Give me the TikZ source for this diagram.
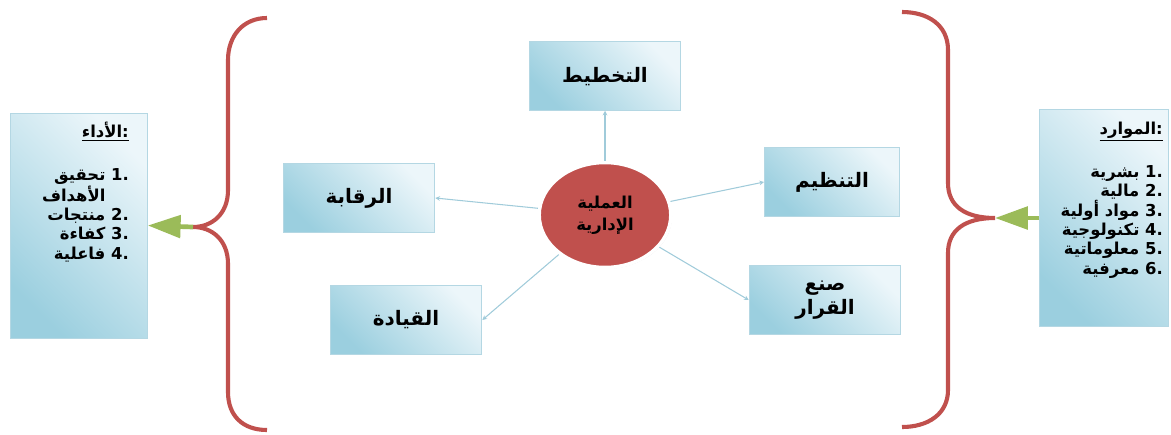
\documentclass[tikz,border=0pt]{standalone}
\usepackage{fontspec}
\newfontfamily\arabicfont[Script=Arabic]{DejaVu Sans}
\TeXXeTstate=1
\usepackage{tikz}
\usetikzlibrary{arrows.meta, positioning, shapes.geometric, shadows}
\definecolor{colorBrace}{RGB}{192,80,77}
\definecolor{colorFeed}{RGB}{155,187,89}
\definecolor{colorProc}{RGB}{192,80,77}
\definecolor{colorBoxLight}{RGB}{236,246,250}
\definecolor{colorBoxDark}{RGB}{155,207,223}
\definecolor{colorBoxLine}{RGB}{180,215,227}
\definecolor{colorLink}{RGB}{160,203,218}
\tikzset{
  funcbox/.style={rectangle, draw=colorBoxLine, line width=0.8pt, top color=colorBoxLight, bottom color=colorBoxDark, shading angle=-45, minimum width=4.55cm, minimum height=2.05cm, font=\arabicfont\bfseries\fontsize{17}{21}\selectfont, align=center},
  sidebox/.style={funcbox, minimum width=4.1cm, minimum height=6.75cm},
  listtext/.style={inner sep=0pt, align=right, font=\arabicfont\bfseries\fontsize{14}{16.5}\selectfont},
  proc/.style={ellipse, fill=colorProc, draw=white, line width=3pt, minimum width=3.95cm, minimum height=3.15cm, inner sep=0pt, align=center, font=\arabicfont\bfseries\fontsize{14}{19}\selectfont, drop shadow={opacity=0.3, shadow xshift=1pt, shadow yshift=-1pt}},
  link/.style={draw=colorLink, line width=0.9pt, -{Stealth[length=4pt,width=4pt]}},
  brace/.style={draw=colorBrace, line width=3.5pt},
  feed/.style={draw=colorFeed, line width=4pt, -{Triangle[length=28pt,width=19pt]}},
}

\begin{document}
\begin{tikzpicture}[x=0.03cm, y=-0.03cm]
\useasboundingbox (0,0) rectangle (1171,434);
% centre
\node[proc] (proc) at (605,215) {\beginR العملية\endR\\\beginR الإدارية\endR};
\node[funcbox, above=1.5cm of proc] (plan) {\beginR التخطيط\endR};
\node[funcbox, minimum width=4.05cm] (org) at (832,182) {\beginR التنظيم\endR};
\node[funcbox, align=center] (dec) at (825,300) {\beginR صنع\endR\\\beginR القرار\endR};
\node[funcbox] (ctrl) at (359,198) {\beginR الرقابة\endR};
\node[funcbox] (lead) at (406,320) {\beginR القيادة\endR};
\draw[link] (proc) -- (plan.south);
\draw[link] (proc) -- (org.west);
\draw[link] (proc) -- (dec.west);
\draw[link] (proc) -- (ctrl.east);
\draw[link] (proc) -- (lead.east);
% inputs and outputs
\node[sidebox] (perf) at (79,225.5) {};
\node[sidebox, minimum width=3.85cm, minimum height=6.5cm] (res) at (1104,218) {};
\node[listtext, anchor=north east] (perftxt) at (129,122) {\underline{\beginR الأداء\endR:}\\[20pt]
  \beginR\beginL.1\endL{} تحقيق\endR\\
  \beginR الأهداف\endR\hphantom{\ .1}\\
  \beginR\beginL.2\endL{} منتجات\endR\\
  \beginR\beginL.3\endL{} كفاءة\endR\\
  \beginR\beginL.4\endL{} فاعلية\endR};
\node[listtext, anchor=north east] (restxt) at (1163,122) {\underline{\beginR الموارد\endR:}\\[20pt]
  \beginR\beginL.1\endL{} بشرية\endR\\
  \beginR\beginL.2\endL{} مالية\endR\\
  \beginR\beginL.3\endL{} مواد أولية\endR\\
  \beginR\beginL.4\endL{} تكنولوجية\endR\\
  \beginR\beginL.5\endL{} معلوماتية\endR\\
  \beginR\beginL.6\endL{} معرفية\endR};
% braces
\coordinate (ltip) at (193,227);
\coordinate (rtip) at (995,218);
\draw[brace] (267,18) .. controls (243,18) and (228,36) .. (228,60) -- (228,190)
  .. controls (228,214) and (212,227) .. (ltip)
  .. controls (212,227) and (228,240) .. (228,264) -- (228,392)
  .. controls (228,416) and (243,430) .. (267,430);
\draw[brace] (902,12) .. controls (928,12) and (948,25) .. (948,50) -- (948,183)
  .. controls (948,206) and (965,218) .. (rtip)
  .. controls (965,218) and (948,230) .. (948,253) -- (948,390)
  .. controls (948,414) and (928,427) .. (902,427);
\draw[feed] (ltip) -- (perf.east);
\draw[feed] (res.west) -- (rtip);
\end{tikzpicture}
\end{document}
